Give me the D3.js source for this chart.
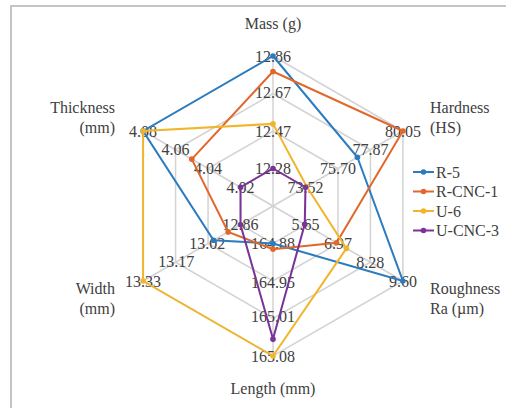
<!DOCTYPE html>
<html>
<head>
<meta charset="utf-8">
<script src="https://cdn.jsdelivr.net/npm/d3@7"></script>
<style>
  body { margin: 0; background: #fff; }
</style>
</head>
<body>
<svg class="canvas"></svg>
<script>
// Setting constants
const wWidth = 506
const wHeight = 408
const fontFamily = "'Liberation Serif', Tinos, 'Times New Roman', 'DejaVu Serif', serif";

// Data
const axisNames = ["Mass (g)", "Hardness (HS)", "Roughness Ra (µm)", "Length (mm)", "Width (mm)", "Thickness (mm)"];
const axisTicks = [
    [12.28, 12.47, 12.67, 12.86],
    [73.52, 75.70, 77.87, 80.05],
    [5.65, 6.97, 8.28, 9.60],
    [164.88, 164.95, 165.01, 165.08],
    [12.86, 13.02, 13.17, 13.33],
    [4.02, 4.04, 4.06, 4.08]
];
const seriesNames = ["R-5", "R-CNC-1", "U-6", "U-CNC-3"];
const r5 = [12.86, 77.00, 9.60, 164.88, 12.99, 4.08];
const rcnc1 = [12.78, 80.05, 6.91, 164.89, 12.92, 4.05];
const u6 = [12.51, 73.60, 7.31, 165.08, 13.33, 4.08];
const ucnc3 = [12.28, 73.52, 5.62, 165.05, 12.86, 4.02];
const seriesValues = [r5, rcnc1, u6, ucnc3];
const colors = ["#2a7bbf", "#e2672b", "#f2b52a", "#7a3397"];

// Layout
const cx = 273, cy = 206, R = 150;
const levels = 4;
const fs = "16px";

const svg = d3.select('.canvas')
    .attr("width", wWidth)
    .attr("height", wHeight)
    .style("font-family", fontFamily);

// border
svg.append("path")
    .attr("d", `M11,${wHeight} V6 H${wWidth}`)
    .attr("fill", "none")
    .attr("stroke", "#c4c4c4")
    .attr("stroke-width", 2);

const graph = svg.append('g')
    .attr('transform', `translate(${cx}, ${cy})`);

// angle per axis, clockwise from top
const angle = d3.scaleLinear().domain([0, axisNames.length]).range([0, 2 * Math.PI]);

// one radial scale per axis
const scales = axisTicks.map(t => {
    const step = (t[t.length - 1] - t[0]) / (t.length - 1);
    return d3.scaleLinear().domain([t[0] - step, t[t.length - 1]]).range([0, R]);
});
const level = d3.scaleLinear().domain([0, levels]).range([0, R]);

const pt = (i, r) => [r * Math.sin(angle(i)), -r * Math.cos(angle(i))];

// grid rings
for (let l = 1; l <= levels; l++) {
    graph.append("path")
        .attr("d", d3.line()(axisNames.map((_, i) => pt(i, level(l)))) + "Z")
        .attr("fill", "none")
        .attr("stroke", "#d3d3d3")
        .attr("stroke-width", 1.5);
}
// spokes
graph.selectAll(".spoke")
    .data(axisNames)
    .enter()
    .append("line")
    .attr("x1", 0).attr("y1", 0)
    .attr("x2", (d, i) => pt(i, R)[0])
    .attr("y2", (d, i) => pt(i, R)[1])
    .attr("stroke", "#d3d3d3")
    .attr("stroke-width", 1.5);

// tick labels
axisTicks.forEach((t, i) => {
    graph.selectAll(".tick" + i)
        .data(t)
        .enter()
        .append("text")
        .attr("x", d => pt(i, scales[i](d))[0])
        .attr("y", d => pt(i, scales[i](d))[1])
        .attr("text-anchor", "middle")
        .attr("dominant-baseline", "central")
        .style("font-family", fontFamily)
        .style("font-size", fs)
        .style("fill", "#404040")
        .text(d => d.toFixed(2));
});

// axis titles
const titles = [
    {lines: ["Mass (g)"], x: 273, y: 23, anchor: "middle"},
    {lines: ["Hardness", "(HS)"], x: 430, y: 107, anchor: "start"},
    {lines: ["Roughness", "Ra (µm)"], x: 430, y: 288, anchor: "start"},
    {lines: ["Length (mm)"], x: 273, y: 388, anchor: "middle"},
    {lines: ["Width", "(mm)"], x: 115, y: 288, anchor: "end"},
    {lines: ["Thickness", "(mm)"], x: 115, y: 107, anchor: "end"}
];
titles.forEach(tt => {
    tt.lines.forEach((ln, k) => {
        svg.append("text")
            .attr("x", tt.x)
            .attr("y", tt.y + k * 20.5)
            .attr("text-anchor", tt.anchor)
            .attr("dominant-baseline", "central")
            .style("font-family", fontFamily)
            .style("font-size", fs)
            .style("fill", "#404040")
            .text(ln);
    });
});

// series
seriesValues.forEach((vals, s) => {
    const pts = vals.map((v, i) => pt(i, scales[i](v)));
    graph.append("path")
        .attr("d", d3.line()(pts) + "Z")
        .attr("fill", "none")
        .attr("stroke", colors[s])
        .attr("stroke-width", 2);
    graph.selectAll(".dot" + s)
        .data(pts)
        .enter()
        .append("circle")
        .attr("cx", d => d[0])
        .attr("cy", d => d[1])
        .attr("r", 2.8)
        .attr("fill", colors[s]);
});

// legend
const legend = svg.append("g").attr("transform", "translate(413, 172)");
seriesNames.forEach((name, s) => {
    const g = legend.append("g").attr("transform", `translate(0, ${s * 19.5})`);
    g.append("line")
        .attr("x1", 0).attr("x2", 21)
        .attr("stroke", colors[s])
        .attr("stroke-width", 2);
    g.append("circle")
        .attr("cx", 10.5).attr("r", 2.8)
        .attr("fill", colors[s]);
    g.append("text")
        .attr("x", 23)
        .attr("dominant-baseline", "central")
        .style("font-family", fontFamily)
        .style("font-size", fs)
        .style("fill", "#404040")
        .text(name);
});
</script>
</body>
</html>
